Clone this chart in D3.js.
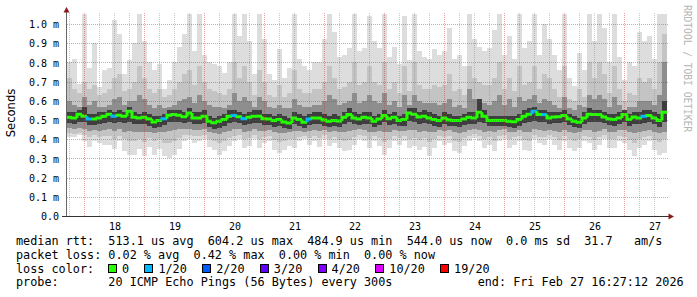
<!DOCTYPE html>
<html>
<head>
<meta charset="utf-8">
<script src="https://cdn.jsdelivr.net/npm/d3@7"></script>
<style>
  body { margin: 0; background: #fff; }
  svg { display: block; }
  .tick text { font-family: "DejaVu Sans Mono", monospace; fill: #000; }
  .legend text { font-family: "DejaVu Sans Mono", monospace; font-size: 11.8px; white-space: pre; }
</style>
</head>
<body>
<div id="chart"></div>
<script>
// 2-hour buckets, 10 days (Feb 17 17:00 -> Feb 27 17:00)
var median = [
  0.514,0.51,0.53,0.52,0.505,0.505,0.51,0.52,0.53,0.52,0.525,0.52,0.545,0.514,0.51,0.514,0.505,0.49,0.497,0.507,0.525,0.528,0.525,0.517,
  0.536,0.51,0.51,0.52,0.493,0.486,0.493,0.502,0.52,0.524,0.517,0.507,0.514,0.52,0.52,0.507,0.505,0.497,0.502,0.49,0.484,0.51,0.502,0.488,
  0.505,0.51,0.51,0.5,0.493,0.498,0.495,0.514,0.528,0.51,0.505,0.514,0.51,0.493,0.505,0.524,0.507,0.514,0.498,0.502,0.536,0.53,0.515,0.52,
  0.51,0.502,0.497,0.51,0.5,0.498,0.497,0.505,0.514,0.51,0.54,0.52,0.498,0.498,0.498,0.498,0.493,0.491,0.502,0.52,0.53,0.545,0.528,0.528,
  0.51,0.515,0.517,0.523,0.505,0.493,0.488,0.51,0.53,0.528,0.528,0.515,0.505,0.502,0.51,0.528,0.502,0.515,0.51,0.52,0.524,0.51,0.497,0.54
];
// lost pings out of 20
var loss = [
  0,0,0,0,1,0,0,0,0,1,0,0,0,0,0,0,0,0,0,1,0,0,0,0,
  0,0,0,0,0,0,0,0,0,1,0,1,0,0,0,0,0,0,0,0,0,0,0,0,
  1,0,0,0,0,0,0,0,0,0,0,0,0,0,0,0,0,0,0,0,0,0,0,0,
  0,0,0,0,0,0,0,0,0,0,0,0,0,0,0,0,0,0,0,0,0,1,0,1,
  0,0,0,0,0,0,0,0,0,0,0,0,0,0,0,0,0,0,0,1,0,0,0,0
];
// smoke: outer (lightest) to inner (darkest) envelopes, ms
var hi1 = [
  0.8,0.82,0.69,1.05,0.77,0.9,0.67,0.76,0.77,1.02,0.95,0.74,0.81,0.9,1.05,0.91,0.8,0.76,0.79,0.66,0.71,0.8,0.88,0.95,
  1.05,0.86,1.05,0.84,0.8,0.79,0.78,0.745,0.8,1.05,0.94,1.05,0.91,0.74,1.05,0.92,0.74,0.71,0.87,0.72,0.77,1.05,0.82,0.78,
  0.76,0.8,0.8,0.92,1.05,0.96,0.83,0.84,0.875,1.05,0.86,0.875,1.04,0.91,0.875,1.05,0.83,0.88,0.79,1.04,0.81,1.05,0.86,0.83,
  0.82,0.87,0.84,0.86,0.98,0.82,0.84,0.78,1.05,0.92,0.88,0.86,0.875,0.97,1.05,0.84,0.94,0.82,1.05,0.875,0.91,1.05,0.84,1.0,
  0.92,0.84,0.76,1.05,0.72,0.675,0.85,0.76,1.05,0.91,1.05,0.98,0.8,1.05,0.83,0.71,0.8,0.78,0.96,0.91,0.94,0.82,1.05,1.05
];
var hi2 = [
  0.72,0.66,0.64,0.7,0.66,0.68,0.63,0.64,0.66,0.72,0.74,0.65,0.66,0.7,0.78,0.72,0.66,0.64,0.66,0.62,0.63,0.66,0.7,0.74,
  0.76,0.68,0.78,0.7,0.66,0.65,0.64,0.63,0.66,0.8,0.72,0.78,0.7,0.63,0.76,0.7,0.63,0.62,0.68,0.62,0.64,0.76,0.66,0.64,
  0.64,0.66,0.66,0.7,0.78,0.72,0.66,0.67,0.7,0.8,0.68,0.7,0.78,0.7,0.68,0.8,0.66,0.7,0.64,0.78,0.65,0.8,0.68,0.66,
  0.66,0.68,0.67,0.68,0.74,0.65,0.66,0.63,0.78,0.72,0.7,0.68,0.68,0.72,0.8,0.66,0.72,0.65,0.78,0.68,0.7,0.78,0.66,0.74,
  0.72,0.66,0.62,0.78,0.61,0.6,0.66,0.62,0.8,0.72,0.8,0.74,0.64,0.78,0.66,0.6,0.64,0.63,0.72,0.7,0.72,0.66,0.8,0.95
];
var hi3 = [
  0.6,0.58,0.57,0.62,0.58,0.6,0.57,0.57,0.58,0.61,0.62,0.58,0.6,0.6,0.63,0.61,0.58,0.56,0.58,0.56,0.57,0.58,0.6,0.61,
  0.62,0.59,0.63,0.6,0.58,0.57,0.57,0.56,0.58,0.64,0.6,0.62,0.6,0.57,0.62,0.6,0.57,0.56,0.58,0.56,0.56,0.61,0.58,0.57,
  0.57,0.58,0.58,0.6,0.63,0.61,0.58,0.59,0.6,0.64,0.59,0.6,0.63,0.6,0.59,0.64,0.58,0.6,0.57,0.63,0.58,0.63,0.6,0.59,
  0.59,0.59,0.58,0.59,0.61,0.57,0.58,0.56,0.66,0.61,0.6,0.59,0.58,0.6,0.63,0.58,0.61,0.57,0.62,0.6,0.61,0.63,0.59,0.61,
  0.6,0.58,0.56,0.62,0.56,0.55,0.58,0.57,0.63,0.61,0.63,0.61,0.57,0.62,0.58,0.55,0.57,0.57,0.6,0.6,0.6,0.58,0.63,0.8
];
var hi4 = [
  0.54,0.54,0.55,0.57,0.53,0.53,0.54,0.54,0.55,0.54,0.55,0.54,0.57,0.54,0.53,0.54,0.53,0.52,0.52,0.53,0.55,0.55,0.55,0.54,
  0.56,0.54,0.54,0.55,0.52,0.51,0.52,0.53,0.55,0.55,0.54,0.53,0.54,0.55,0.55,0.53,0.53,0.52,0.53,0.52,0.51,0.54,0.53,0.52,
  0.53,0.54,0.54,0.53,0.52,0.53,0.52,0.54,0.56,0.54,0.53,0.54,0.54,0.52,0.53,0.55,0.53,0.54,0.52,0.53,0.56,0.56,0.54,0.55,
  0.54,0.53,0.52,0.54,0.53,0.52,0.52,0.53,0.54,0.54,0.61,0.55,0.52,0.52,0.52,0.52,0.52,0.52,0.53,0.55,0.56,0.57,0.55,0.55,
  0.54,0.54,0.54,0.55,0.53,0.52,0.51,0.54,0.56,0.55,0.55,0.54,0.53,0.53,0.54,0.55,0.53,0.54,0.54,0.55,0.55,0.54,0.53,0.6
];
var lo4 = [
  0.485,0.48,0.49,0.49,0.475,0.475,0.48,0.485,0.49,0.485,0.49,0.485,0.49,0.48,0.48,0.48,0.47,0.46,0.465,0.475,0.49,0.49,0.49,0.485,
  0.49,0.48,0.48,0.485,0.465,0.455,0.46,0.47,0.485,0.49,0.485,0.475,0.48,0.485,0.485,0.475,0.475,0.465,0.47,0.46,0.455,0.48,0.47,0.46,
  0.475,0.48,0.48,0.47,0.465,0.47,0.465,0.48,0.49,0.48,0.475,0.48,0.48,0.465,0.475,0.49,0.475,0.48,0.47,0.47,0.495,0.49,0.48,0.485,
  0.48,0.47,0.465,0.48,0.47,0.47,0.465,0.475,0.48,0.48,0.49,0.485,0.47,0.47,0.47,0.47,0.465,0.46,0.47,0.485,0.49,0.495,0.49,0.49,
  0.48,0.485,0.485,0.49,0.475,0.465,0.46,0.48,0.49,0.49,0.49,0.485,0.475,0.47,0.48,0.49,0.47,0.48,0.48,0.485,0.49,0.48,0.465,0.49
];
var lo3 = [
  0.46,0.455,0.46,0.455,0.445,0.45,0.445,0.45,0.455,0.445,0.455,0.44,0.445,0.44,0.44,0.435,0.44,0.43,0.435,0.44,0.445,0.45,0.455,0.455,
  0.455,0.45,0.45,0.455,0.44,0.43,0.425,0.435,0.445,0.455,0.455,0.44,0.445,0.455,0.445,0.445,0.45,0.435,0.43,0.43,0.435,0.445,0.445,0.44,
  0.445,0.45,0.445,0.45,0.44,0.445,0.435,0.44,0.445,0.45,0.455,0.45,0.44,0.44,0.445,0.435,0.44,0.45,0.445,0.445,0.45,0.45,0.44,0.445,
  0.435,0.44,0.45,0.445,0.45,0.435,0.43,0.44,0.45,0.455,0.45,0.44,0.445,0.435,0.45,0.455,0.44,0.44,0.45,0.435,0.44,0.455,0.45,0.445,
  0.45,0.445,0.435,0.45,0.44,0.43,0.435,0.45,0.45,0.44,0.445,0.455,0.44,0.44,0.45,0.45,0.44,0.43,0.44,0.445,0.45,0.44,0.43,0.44
];
var lo2 = [
  0.43,0.425,0.43,0.42,0.41,0.42,0.41,0.415,0.415,0.4,0.415,0.4,0.39,0.39,0.4,0.385,0.405,0.39,0.4,0.38,0.38,0.39,0.405,0.42,
  0.42,0.415,0.415,0.42,0.4,0.39,0.38,0.39,0.405,0.415,0.42,0.4,0.405,0.42,0.4,0.41,0.415,0.395,0.385,0.39,0.4,0.4,0.41,0.415,
  0.405,0.415,0.405,0.42,0.4,0.41,0.395,0.39,0.395,0.41,0.42,0.415,0.4,0.415,0.405,0.385,0.4,0.415,0.405,0.415,0.4,0.405,0.395,0.405,
  0.385,0.4,0.415,0.41,0.415,0.39,0.385,0.405,0.415,0.425,0.415,0.4,0.41,0.39,0.415,0.42,0.4,0.41,0.415,0.395,0.39,0.42,0.41,0.41,
  0.42,0.41,0.395,0.415,0.4,0.39,0.4,0.415,0.41,0.395,0.41,0.42,0.4,0.4,0.415,0.41,0.395,0.38,0.4,0.41,0.415,0.395,0.385,0.4
];
var lo1 = [
  0.41,0.41,0.42,0.39,0.36,0.39,0.38,0.37,0.37,0.35,0.39,0.34,0.32,0.32,0.35,0.31,0.36,0.32,0.35,0.31,0.3,0.32,0.35,0.39,
  0.4,0.38,0.39,0.4,0.36,0.345,0.32,0.337,0.363,0.39,0.4,0.354,0.363,0.4,0.354,0.38,0.39,0.345,0.328,0.345,0.363,0.354,0.39,0.4,
  0.37,0.39,0.36,0.4,0.363,0.38,0.354,0.337,0.345,0.37,0.4,0.39,0.354,0.39,0.363,0.32,0.354,0.39,0.37,0.39,0.354,0.363,0.345,0.36,
  0.31,0.354,0.39,0.37,0.38,0.337,0.328,0.363,0.39,0.406,0.39,0.354,0.37,0.337,0.39,0.4,0.354,0.37,0.39,0.345,0.337,0.4,0.38,0.37,
  0.4,0.37,0.345,0.39,0.354,0.337,0.354,0.39,0.38,0.345,0.37,0.4,0.354,0.354,0.39,0.38,0.345,0.31,0.354,0.37,0.39,0.345,0.32,0.33
];

var yTicks = [0,0.1,0.2,0.3,0.4,0.5,0.6,0.7,0.8,0.9,1.0];
var lossLevels = ["0","1/20","2/20","3/20","4/20","10/20","19/20"];
var lossCounts = [0,1,2,3,4,10,19];
var lossColors = ["#26ff00","#00b8ff","#0059ff","#5e00ff","#7e00ff","#dd00ff","#ff0000"];
var statsLine = "median rtt:  513.1 us avg  604.2 us max  484.9 us min  544.0 us now  0.0 ms sd  31.7   am/s";
var lossLine  = "packet loss: 0.02 % avg  0.42 % max  0.00 % min  0.00 % now";
var probeLine = "probe:       20 ICMP Echo Pings (56 Bytes) every 300s            end: Fri Feb 27 16:27:12 2026";

var svgWidth = 697, svgHeight = 297;
var plotL = 67, plotR = 667, plotT = 13, plotB = 216;

var svg = d3.select("#chart").append("svg")
  .attr("width", svgWidth).attr("height", svgHeight);
svg.append("rect").attr("width", svgWidth).attr("height", svgHeight).attr("fill", "#fff");

var t0 = new Date(Date.UTC(2026,1,17,17)), t1 = new Date(Date.UTC(2026,1,27,17));
var x = d3.scaleUtc().domain([t0, t1]).range([plotL, plotR]);
var y = d3.scaleLinear().domain([0, 1]).range([plotB, 24]);

var step = 2 * 3600 * 1000;
var rows = median.map(function(m, i) {
  return { t: new Date(+t0 + i * step), t2: new Date(+t0 + (i + 1) * step), med: m, loss: loss[i],
    hi1: hi1[i], hi2: hi2[i], hi3: hi3[i], hi4: hi4[i], lo4: lo4[i], lo3: lo3[i], lo2: lo2[i], lo1: lo1[i] };
});

svg.append("clipPath").attr("id", "plotclip")
  .append("rect").attr("x", plotL).attr("y", plotT).attr("width", plotR - plotL).attr("height", plotB - plotT);

var plot = svg.append("g").attr("clip-path", "url(#plotclip)");

// smoke layers
var layers = [["hi1","lo1","#dddddd"],["hi2","lo2","#c4c4c4"],["hi3","lo3","#8e8e8e"],["hi4","lo4","#3e3e3e"]];
layers.forEach(function(l) {
  plot.append("g").selectAll("rect").data(rows).enter().append("rect")
    .attr("x", d => x(d.t))
    .attr("width", d => x(d.t2) - x(d.t))
    .attr("y", d => y(d[l[0]]))
    .attr("height", d => y(d[l[1]]) - y(d[l[0]]))
    .attr("fill", l[2])
    .attr("shape-rendering", "crispEdges");
});

// grid
var grid = svg.append("g").attr("shape-rendering", "crispEdges");
d3.utcHour.every(6).range(t0, t1).forEach(function(t) {
  var red = t.getUTCHours() === 0;
  grid.append("line")
    .attr("x1", Math.floor(x(t)) + 0.5).attr("x2", Math.floor(x(t)) + 0.5)
    .attr("y1", plotT).attr("y2", plotB)
    .attr("stroke", red ? "rgba(210,40,40,0.45)" : "rgba(120,120,120,0.4)")
    .attr("stroke-dasharray", "1,1");
});
yTicks.slice(1).forEach(function(v) {
  grid.append("line")
    .attr("x1", plotL).attr("x2", plotR + 1)
    .attr("y1", Math.round(y(v)) + 0.5).attr("y2", Math.round(y(v)) + 0.5)
    .attr("stroke", "rgba(210,40,40,0.45)")
    .attr("stroke-dasharray", "1,1");
});

// median, coloured by loss
var colorOf = d3.scaleOrdinal().domain(lossCounts).range(lossColors);
plot.append("g").selectAll("path").data(rows).enter().append("path")
  .attr("d", function(d, i) {
    var prev = i > 0 ? rows[i - 1].med : d.med;
    return "M" + x(d.t) + "," + y(prev) + "V" + y(d.med) + "H" + x(d.t2);
  })
  .attr("fill", "none")
  .attr("stroke", d => colorOf(d.loss))
  .attr("stroke-width", 3)
  .attr("stroke-linejoin", "miter");

// axes lines + arrows
svg.append("line").attr("x1", plotL - 0.5).attr("x2", plotL - 0.5).attr("y1", plotB).attr("y2", 10)
  .attr("stroke", "#666").attr("shape-rendering", "crispEdges");
svg.append("line").attr("x1", 62).attr("x2", 670).attr("y1", plotB + 0.5).attr("y2", plotB + 0.5)
  .attr("stroke", "#333").attr("shape-rendering", "crispEdges");
svg.append("path").attr("d", "M66.5,7L63.5,12.5L69.5,12.5Z").attr("fill", "#8b1a1a");
svg.append("path").attr("d", "M674,216.5L668.5,213.5L668.5,219.5Z").attr("fill", "#8b1a1a");

// y axis labels
var yAxis = d3.axisLeft(y).tickValues(yTicks).tickSize(0).tickPadding(8)
  .tickFormat(v => v === 0 ? "0.0" : v.toFixed(1) + " m");
var gy = svg.append("g").attr("transform", `translate(${plotL},0)`).call(yAxis);
gy.select(".domain").remove();
gy.selectAll("text").attr("font-size", "10px").attr("dy", "0.36em");

// x axis labels at noon
var noons = d3.utcDay.range(new Date(Date.UTC(2026,1,18)), new Date(Date.UTC(2026,1,28)))
  .map(d => new Date(+d + 12 * 3600 * 1000));
var xAxis = d3.axisBottom(x).tickValues(noons).tickSize(0).tickPadding(8)
  .tickFormat(d3.utcFormat("%d"));
var gx = svg.append("g").attr("transform", `translate(0,${plotB})`).call(xAxis);
gx.select(".domain").remove();
gx.selectAll("text").attr("font-size", "10px").attr("dy", "0.55em");

// y title
svg.append("text")
  .attr("transform", "translate(15,113) rotate(-90)")
  .attr("text-anchor", "middle")
  .attr("font-family", "DejaVu Sans, sans-serif")
  .attr("font-size", "11.6px")
  .text("Seconds");

// watermark
svg.append("text")
  .attr("transform", "translate(684,5) rotate(90)")
  .attr("font-family", "DejaVu Sans Mono, monospace")
  .attr("font-size", "9.6px")
  .attr("fill", "#b4b4b4")
  .text("RRDTOOL / TOBI OETIKER");

// legend
var lg = svg.append("g").attr("class", "legend");
lg.append("text").attr("x", 16).attr("y", 245).text(statsLine);
lg.append("text").attr("x", 16).attr("y", 258.8).text(lossLine);
lg.append("text").attr("x", 16).attr("y", 272.6).text("loss color:");
lg.append("text").attr("x", 16).attr("y", 286.4).text(probeLine);

var bx = 108;
lossLevels.forEach(function(lab, i) {
  lg.append("rect").attr("x", bx + 0.5).attr("y", 264.5).attr("width", 8).attr("height", 8)
    .attr("fill", lossColors[i]).attr("stroke", "#000").attr("shape-rendering", "crispEdges");
  var t = lg.append("text").attr("x", bx + 14).attr("y", 272.6).text(lab);
  bx = bx + 14 + t.node().getComputedTextLength() + 15.3;
});
</script>
</body>
</html>
